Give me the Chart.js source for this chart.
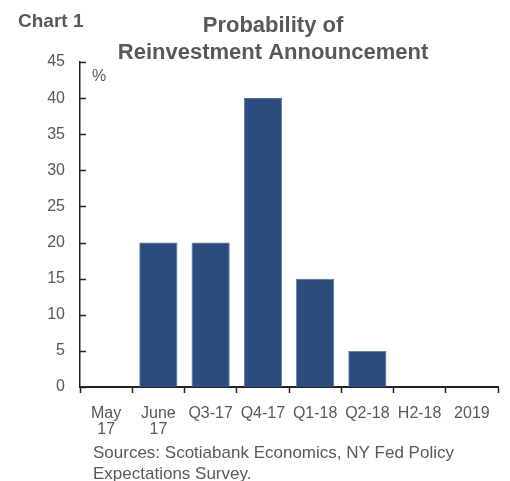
<!DOCTYPE html>
<html>
<head>
<meta charset="utf-8">
<script src="https://cdn.jsdelivr.net/npm/chart.js@4/dist/chart.umd.min.js"></script>
<style>
  html, body { margin: 0; padding: 0; background: #fff; }
  #wrap { position: relative; width: 510px; height: 481px; }
</style>
</head>
<body>
<div id="wrap"><canvas id="chart-prob" width="510" height="481"></canvas></div>
<script>
  "use strict";

  // 再投資発表の確率 (%)
  var categories = [['May', '17'], ['June', '17'], 'Q3-17', 'Q4-17', 'Q1-18', 'Q2-18', 'H2-18', '2019'];
  var probValues = [0, 20, 20, 40, 15, 5, 0, 0];
  var yTicks = [0, 5, 10, 15, 20, 25, 30, 35, 40, 45];

  var GRAY = '#595959';
  var FONT = 'Arial, "Liberation Sans", sans-serif';

  // タイトル・注記・内向きの目盛り
  var decorPlugin = {
    id: 'decor',
    afterDraw: function(c) {
      var ctx = c.ctx;
      var area = c.chartArea;
      var ys = c.scales.y;
      ctx.save();

      // y軸の目盛り（内向き）
      ctx.strokeStyle = '#222';
      ctx.lineWidth = 1.5;
      yTicks.forEach(function(v) {
        var py = Math.round(ys.getPixelForValue(v)) + 0.5;
        ctx.beginPath();
        ctx.moveTo(area.left, py);
        ctx.lineTo(area.left + 6, py);
        ctx.stroke();
      });

      ctx.fillStyle = GRAY;
      ctx.textBaseline = 'alphabetic';

      ctx.font = 'bold 19px ' + FONT;
      ctx.textAlign = 'left';
      ctx.fillText('Chart 1', 18, 27);

      ctx.font = 'bold 22px ' + FONT;
      ctx.textAlign = 'center';
      ctx.fillText('Probability of', 273, 32);
      ctx.fillText('Reinvestment Announcement', 273, 59);

      ctx.font = '16px ' + FONT;
      ctx.textAlign = 'left';
      ctx.fillText('%', 92, 81);

      ctx.font = '17px ' + FONT;
      ctx.fillText('Sources: Scotiabank Economics, NY Fed Policy', 93, 458);
      ctx.fillText('Expectations Survey.', 93, 479);
      ctx.restore();
    }
  };

  var chart = new Chart(document.getElementById('chart-prob'), {
    type: 'bar',
    data: {
      labels: categories,
      datasets: [{
        data: probValues,
        backgroundColor: '#2b4c7c',
        borderColor: '#4f6f9c',
        borderWidth: 0.8,
        barPercentage: 0.73,
        categoryPercentage: 1.0
      }]
    },
    options: {
      responsive: false,
      animation: false,
      layout: { padding: { top: 62, right: 12, left: 0, bottom: 0 } },
      plugins: {
        legend: { display: false },
        tooltip: { enabled: false }
      },
      scales: {
        x: {
          offset: true,
          grid: { display: true, offset: true, drawOnChartArea: false, tickLength: 6, tickColor: '#222', tickWidth: 1.5 },
          border: { display: true, color: '#222', width: 2 },
          ticks: {
            color: GRAY, font: { family: FONT, size: 16, lineHeight: 1.0 },
            autoSkip: false, maxRotation: 0, minRotation: 0, padding: 13
          },
          afterFit: function(s) { s.height = 94; }
        },
        y: {
          min: 0, max: 45,
          afterBuildTicks: function(s) { s.ticks = yTicks.map(function(v) { return { value: v }; }); },
          grid: { display: false, drawTicks: false },
          border: { display: true, color: '#222', width: 1.5 },
          ticks: { color: GRAY, font: { family: FONT, size: 16 }, padding: 15 },
          afterFit: function(s) { s.width = 80; }
        }
      }
    },
    plugins: [decorPlugin]
  });
</script>
</body>
</html>
